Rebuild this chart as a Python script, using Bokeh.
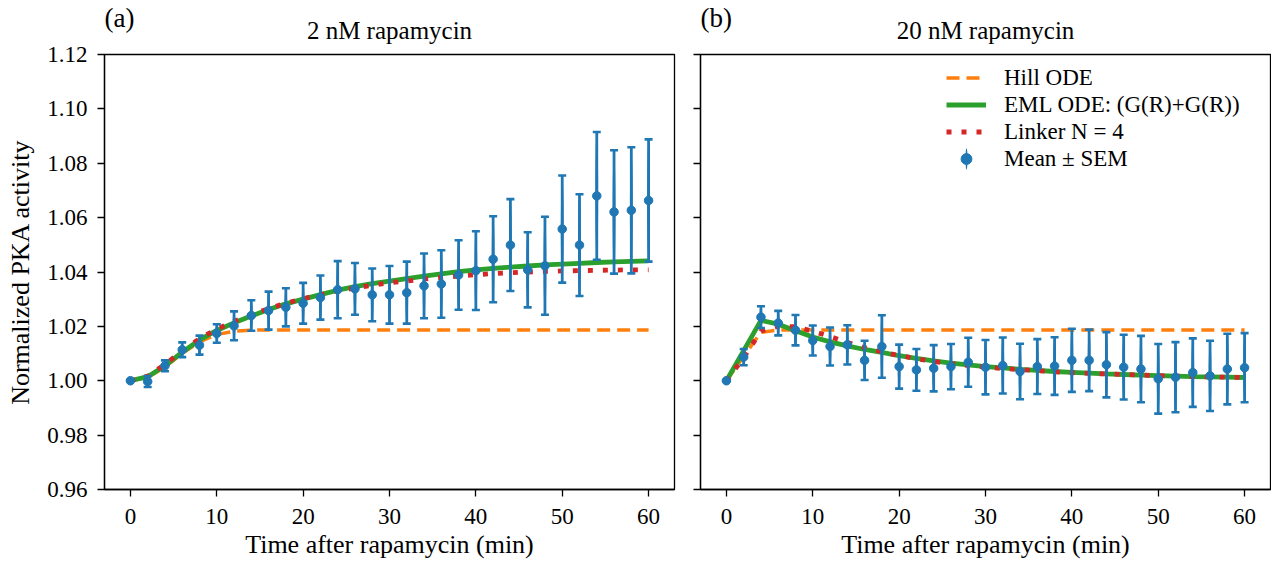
import numpy as np
from bokeh.plotting import figure
from bokeh.models import (ColumnDataSource, Legend, LegendItem, Title, FixedTicker,
                          Range1d)
from bokeh.layouts import row
from bokeh.embed import file_html
from bokeh.resources import INLINE

# ---------------- data ----------------
time_min = [0, 2, 4, 6, 8, 10, 12, 14, 16, 18, 20, 22, 24, 26, 28, 30,
            32, 34, 36, 38, 40, 42, 44, 46, 48, 50, 52, 54, 56, 58, 60]

mean_2nM = [1.0000, 0.9997, 1.0055, 1.0114, 1.0131, 1.0174, 1.0202, 1.0240,
            1.0258, 1.0270, 1.0285, 1.0306, 1.0335, 1.0338, 1.0316, 1.0316,
            1.0324, 1.0349, 1.0356, 1.0389, 1.0405, 1.0447, 1.0499, 1.0408,
            1.0423, 1.0558, 1.0499, 1.0680, 1.0621, 1.0627, 1.0663]
sem_2nM = [0.0000, 0.0020, 0.0020, 0.0027, 0.0035, 0.0034, 0.0053, 0.0056,
           0.0070, 0.0070, 0.0075, 0.0081, 0.0105, 0.0095, 0.0097, 0.0106,
           0.0114, 0.0119, 0.0124, 0.0128, 0.0145, 0.0158, 0.0169, 0.0138,
           0.0180, 0.0197, 0.0187, 0.0235, 0.0227, 0.0232, 0.0225]
hill_2nM = [1.0000, 1.0012, 1.0050, 1.0100, 1.0143, 1.0170, 1.0182, 1.0186,
            1.0187, 1.0187, 1.0187, 1.0187, 1.0187, 1.0187, 1.0187, 1.0187,
            1.0187, 1.0187, 1.0187, 1.0187, 1.0187, 1.0187, 1.0187, 1.0187,
            1.0187, 1.0187, 1.0187, 1.0187, 1.0187, 1.0187, 1.0187]
eml_2nM = [1.0000, 1.0015, 1.0055, 1.0105, 1.0150, 1.0185, 1.0213, 1.0238,
           1.0262, 1.0283, 1.0300, 1.0317, 1.0333, 1.0346, 1.0357, 1.0366,
           1.0376, 1.0385, 1.0393, 1.0401, 1.0408, 1.0413, 1.0418, 1.0422,
           1.0426, 1.0429, 1.0432, 1.0435, 1.0437, 1.0439, 1.0441]
linker_2nM = [1.0000, 1.0017, 1.0060, 1.0110, 1.0155, 1.0190, 1.0218, 1.0243,
              1.0265, 1.0285, 1.0302, 1.0317, 1.0330, 1.0341, 1.0351, 1.0360,
              1.0367, 1.0374, 1.0380, 1.0385, 1.0390, 1.0394, 1.0397, 1.0400,
              1.0402, 1.0404, 1.0405, 1.0406, 1.0407, 1.0408, 1.0408]

mean_20nM = [1.0000, 1.0087, 1.0234, 1.0212, 1.0186, 1.0148, 1.0126, 1.0132,
             1.0075, 1.0126, 1.0052, 1.0040, 1.0046, 1.0052, 1.0068, 1.0050,
             1.0056, 1.0034, 1.0052, 1.0054, 1.0075, 1.0075, 1.0059, 1.0050,
             1.0043, 1.0007, 1.0013, 1.0030, 1.0018, 1.0043, 1.0048]
sem_20nM = [0.0000, 0.0030, 0.0040, 0.0045, 0.0056, 0.0055, 0.0070, 0.0072,
            0.0072, 0.0115, 0.0081, 0.0077, 0.0085, 0.0083, 0.0090, 0.0100,
            0.0103, 0.0102, 0.0101, 0.0106, 0.0116, 0.0113, 0.0120, 0.0119,
            0.0122, 0.0128, 0.0129, 0.0126, 0.0129, 0.0130, 0.0127]
hill_20nM = [1.0000, 1.0090, 1.0178, 1.0187, 1.0187, 1.0187, 1.0187, 1.0187,
             1.0187, 1.0187, 1.0187, 1.0187, 1.0187, 1.0187, 1.0187, 1.0187,
             1.0187, 1.0187, 1.0187, 1.0187, 1.0187, 1.0187, 1.0187, 1.0187,
             1.0187, 1.0187, 1.0187, 1.0187, 1.0187, 1.0187, 1.0187]
eml_20nM = [1.0000, 1.0111, 1.0222, 1.0208, 1.0184, 1.0161, 1.0143, 1.0128,
            1.0115, 1.0104, 1.0092, 1.0082, 1.0073, 1.0065, 1.0058, 1.0052,
            1.0047, 1.0042, 1.0038, 1.0034, 1.0031, 1.0028, 1.0025, 1.0023,
            1.0021, 1.0019, 1.0017, 1.0015, 1.0014, 1.0013, 1.0012]
linker_20nM = [1.0000, 1.0085, 1.0183, 1.0200, 1.0199, 1.0182, 1.0163, 1.0141,
               1.0122, 1.0106, 1.0093, 1.0081, 1.0071, 1.0063, 1.0056, 1.0050,
               1.0045, 1.0041, 1.0037, 1.0033, 1.0030, 1.0027, 1.0025, 1.0023,
               1.0021, 1.0019, 1.0017, 1.0015, 1.0014, 1.0013, 1.0012]

x_ticks = [0, 10, 20, 30, 40, 50, 60]
y_ticks = [0.96, 0.98, 1.00, 1.02, 1.04, 1.06, 1.08, 1.10, 1.12]
y_tick_labels = ["0.96", "0.98", "1.00", "1.02", "1.04", "1.06", "1.08", "1.10", "1.12"]

panel_titles = ["2 nM rapamycin", "20 nM rapamycin"]
panel_letters = ["(a)", "(b)"]
legend_labels = ["Hill ODE", "EML ODE: (G(R)+G(R))", "Linker N = 4", "Mean \u00b1 SEM"]

# ---------------- style ----------------
FONT = "Liberation Serif"
C_BLUE = "#1f77b4"
C_ORANGE = "#ff7f0e"
C_GREEN = "#2ca02c"
C_RED = "#d62728"
FIG_H = 561


def make_panel(mean, sem, hill, eml, linker, title, letter, left_panel):
    common = dict(height=FIG_H, min_border_top=54, min_border_bottom=10,
                  x_range=Range1d(-3, 63), y_range=Range1d(0.96, 1.12),
                  output_backend="svg", toolbar_location=None)
    if left_panel:
        p = figure(width=684, min_border_left=104, min_border_right=10, **common)
    else:
        p = figure(width=587, min_border_left=16, min_border_right=1, **common)
    p.grid.visible = False
    p.outline_line_color = "black"
    p.outline_line_width = 1.3
    p.background_fill_color = "white"
    p.border_fill_color = "white"

    for ax in (p.xaxis[0], p.yaxis[0]):
        ax.axis_line_width = 1.3
        ax.major_tick_line_width = 1.3
        ax.major_tick_out = 7
        ax.major_tick_in = 0
        ax.minor_tick_out = 0
        ax.minor_tick_in = 0
        ax.major_label_text_font = FONT
        ax.major_label_text_font_size = "23px"
        ax.major_label_text_color = "black"
        ax.axis_label_text_font = FONT
        ax.axis_label_text_font_size = "26px"
        ax.axis_label_text_font_style = "normal"
        ax.axis_label_text_color = "black"

    p.xaxis.ticker = FixedTicker(ticks=x_ticks, minor_ticks=[])
    p.yaxis.ticker = FixedTicker(ticks=y_ticks, minor_ticks=[])
    p.xaxis.axis_label = "Time after rapamycin (min)"
    p.xaxis.major_label_standoff = 12
    p.xaxis.axis_label_standoff = 3
    if left_panel:
        p.yaxis.major_label_overrides = {t: s for t, s in zip(y_ticks, y_tick_labels)}
        p.yaxis.axis_label = "Normalized PKA activity"
        p.yaxis.major_label_standoff = 10
        p.yaxis.axis_label_standoff = 9
    else:
        p.yaxis.major_label_overrides = {t: "" for t in y_ticks}
        p.yaxis.major_label_standoff = 0

    lower = list(np.array(mean) - np.array(sem))
    upper = list(np.array(mean) + np.array(sem))
    span = list(2 * np.array(sem))
    src = ColumnDataSource(dict(t=time_min, mean=mean, lower=lower, upper=upper,
                                span=span, hill=hill, eml=eml, linker=linker))

    r_hill = p.line("t", "hill", source=src, line_color=C_ORANGE, line_width=3.5,
                    line_dash="13 7")
    r_eml = p.line("t", "eml", source=src, line_color=C_GREEN, line_width=4.8)
    r_link = p.line("t", "linker", source=src, line_color=C_RED, line_width=4.8,
                    line_dash="5 10")
    # error bars (the thin ellipse sits under each bar and provides the legend glyph)
    r_ell = p.ellipse(x="t", y="mean", width=2.8, height="span", width_units="screen",
                      height_units="data", source=src, fill_color=C_BLUE,
                      line_color=None)
    p.segment(x0="t", y0="lower", x1="t", y1="upper", source=src,
              line_color=C_BLUE, line_width=2.8)
    p.scatter("t", "lower", source=src, marker="dash", size=8, line_color=C_BLUE,
              line_width=2.6)
    p.scatter("t", "upper", source=src, marker="dash", size=8, line_color=C_BLUE,
              line_width=2.6)
    r_pts = p.scatter("t", "mean", source=src, marker="circle", size=8.5,
                      fill_color=C_BLUE, line_color=C_BLUE)

    # outer title: panel letter; inner title: panel heading
    p.title.text = letter
    p.title.align = "left"
    p.title.text_font = FONT
    p.title.text_font_size = "27px"
    p.title.text_font_style = "normal"
    p.title.text_color = "black"
    p.title.standoff = -56
    p.add_layout(Title(text=title, align="center", text_font=FONT,
                       text_font_size="25px", text_font_style="normal",
                       text_color="black", standoff=21), "above")

    if not left_panel:
        legend = Legend(items=[
            LegendItem(label=legend_labels[0], renderers=[r_hill]),
            LegendItem(label=legend_labels[1], renderers=[r_eml]),
            LegendItem(label=legend_labels[2], renderers=[r_link]),
            LegendItem(label=legend_labels[3], renderers=[r_ell, r_pts], index=4),
        ], location="top_right", margin=10, padding=11, spacing=0,
            glyph_width=40, glyph_height=27, label_height=27, label_width=256,
            label_standoff=18, border_line_color=None, background_fill_alpha=0,
            label_text_font=FONT, label_text_font_size="23px",
            label_text_color="black")
        p.add_layout(legend)
    return p


p1 = make_panel(mean_2nM, sem_2nM, hill_2nM, eml_2nM, linker_2nM,
                panel_titles[0], panel_letters[0], True)
p2 = make_panel(mean_20nM, sem_20nM, hill_20nM, eml_20nM, linker_20nM,
                panel_titles[1], panel_letters[1], False)

layout = row(p1, p2)
open("out.html", "w").write(file_html(layout, INLINE))
